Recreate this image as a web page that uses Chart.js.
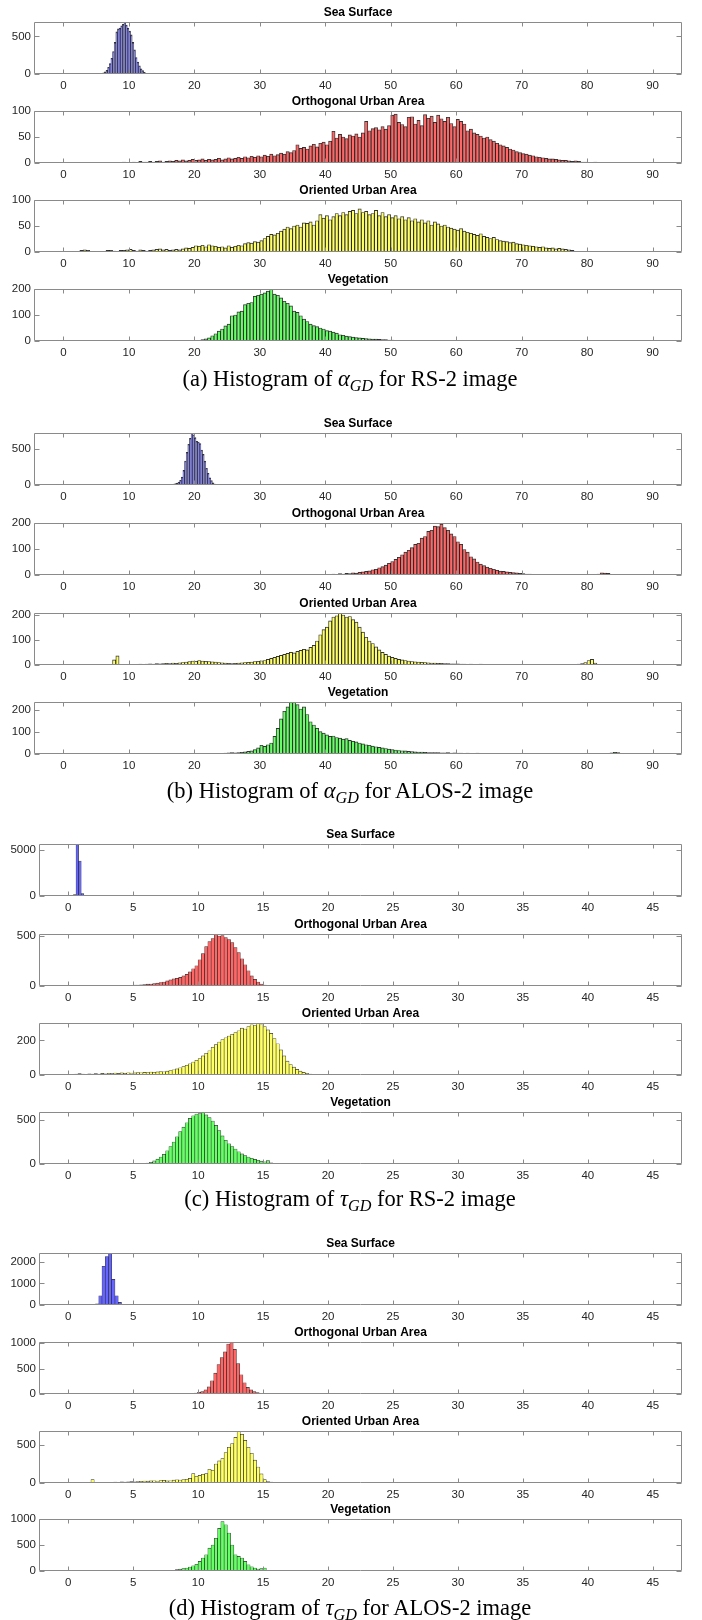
<!DOCTYPE html>
<html>
<head>
<meta charset="utf-8">
<script src="https://cdn.jsdelivr.net/npm/chart.js@4.4.1/dist/chart.umd.min.js"></script>
<style>
  html, body { margin: 0; padding: 0; background: #fff; }
  #page { position: relative; width: 702px; height: 1620px; overflow: hidden; }
  .panel { position: absolute; left: 0; }
  .cap {
    position: absolute; left: 0; width: 700px; text-align: center;
    font-family: "Liberation Serif", "Times New Roman", serif;
    font-size: 22.5px; line-height: 26px; color: #000;
  }
  .cap sub { font-size: 72%; vertical-align: -0.32em; line-height: 0; }
</style>
</head>
<body>
<div id="page"></div>
<script>
// ---- class names / tick labels ----
const classTitles = ['Sea Surface', 'Orthogonal Urban Area', 'Oriented Urban Area', 'Vegetation'];
const xTicksAlpha = [0, 10, 20, 30, 40, 50, 60, 70, 80, 90];
const xTicksTau = [0, 5, 10, 15, 20, 25, 30, 35, 40, 45];

// ---- (a) alpha_GD, RS-2 : bin start, bin width, counts ----
const aSeaStart = 5.5, aSeaBin = 0.25;
const aSea = [3, 8, 15, 28, 50, 90, 140, 210, 300, 420, 560, 600, 610, 640, 660, 690,
  650, 610, 570, 520, 420, 320, 220, 160, 110, 70, 45, 22, 10, 4];
const aOrthoStart = 8, aOrthoBin = 0.5;
const aOrtho = [
  1, 0, 2, 1, 1, 2, 1, 3, 2, 2,
  3, 2, 3, 4, 2, 3, 4, 3, 5, 4,
  6, 4, 5, 7, 5, 6, 8, 5, 7, 6,
  7, 9, 6, 8, 10, 8, 9, 11, 9, 12,
  10, 13, 11, 14, 12, 15, 13, 17, 14, 16,
  19, 17, 22, 20, 24, 35, 28, 30, 27, 33,
  36, 31, 38, 40, 35, 42, 61, 48, 55, 50,
  47, 54, 52, 56, 50, 58, 80, 62, 66, 68,
  64, 70, 65, 72, 92, 94, 78, 74, 70, 88,
  89, 75, 82, 72, 93, 86, 90, 78, 92, 85,
  80, 88, 76, 70, 84, 80, 75, 62, 65, 58,
  55, 52, 48, 50, 45, 42, 38, 35, 33, 30,
  27, 25, 22, 20, 18, 17, 15, 14, 12, 11,
  10, 9, 8, 8, 7, 6, 5, 5, 4, 3,
  4, 3, 2, 2, 1, 1, 2, 1, 1, 0,
  1, 0];
const aOrientStart = 2, aOrientBin = 0.5;
const aOrient = [
  0, 3, 4, 3, 1, 0, 0, 0, 1, 3,
  3, 2, 1, 3, 3, 4, 5, 3, 2, 4,
  3, 2, 3, 4, 5, 6, 4, 5, 3, 4,
  5, 4, 6, 8, 7, 9, 12, 11, 13, 10,
  14, 12, 11, 9, 10, 8, 12, 9, 11, 13,
  12, 16, 18, 17, 20, 19, 22, 26, 30, 34,
  33, 36, 40, 44, 48, 45, 50, 52, 48, 56,
  55, 58, 52, 60, 72, 65, 70, 62, 68, 74,
  70, 76, 72, 78, 80, 74, 83, 76, 78, 72,
  74, 80, 70, 76, 68, 72, 66, 70, 64, 68,
  62, 66, 60, 64, 58, 62, 56, 60, 52, 58,
  54, 50, 52, 48, 46, 44, 42, 45, 40, 38,
  36, 34, 32, 35, 30, 28, 26, 28, 24, 22,
  21, 20, 18, 19, 16, 15, 14, 13, 12, 11,
  10, 9, 10, 8, 7, 8, 6, 7, 6, 5,
  4, 3];
const aVegStart = 19, aVegBin = 0.5;
const aVeg = [
  1, 2, 1, 3, 5, 8, 12, 20, 28, 38,
  46, 58, 65, 97, 100, 112, 115, 140, 145, 148,
  172, 176, 180, 185, 192, 200, 180, 176, 166, 153,
  145, 135, 115, 110, 97, 84, 75, 65, 59, 55,
  50, 46, 40, 38, 34, 30, 24, 22, 19, 17,
  15, 13, 12, 10, 9, 8, 7, 7, 6, 5,
  5, 4, 4, 3, 3, 3, 2, 3, 2, 2,
  2, 1, 1, 2, 1, 1, 2, 1, 0, 1,
  1, 0, 1, 0, 0, 1, 0, 0, 1, 0,
  0, 0, 1, 0, 0, 0, 0, 0, 0, 0,
  0, 0, 0, 0, 0, 0, 0, 0, 2, 0,
  0, 0, 0, 0, 0, 0, 0, 0, 0, 1];
const aYMax = [692, 100, 100, 200];
const aYTicks = [[0, 500], [0, 50, 100], [0, 50, 100], [0, 100, 200]];

// ---- (b) alpha_GD, ALOS-2 ----
const bSeaStart = 13.5, bSeaBin = 0.25;
const bSea = [1, 2, 2, 3, 3, 3, 4, 4, 5, 5, 6, 7, 9, 12, 18, 25, 40, 65,
  110, 200, 330, 450, 560, 640, 714, 690, 650, 600, 590, 570,
  480, 420, 330, 230, 160, 100, 60, 30, 12, 5, 2, 0];
const bOrthoStart = 38, bOrthoBin = 0.5;
const bOrtho = [
  1, 0, 2, 1, 3, 2, 4, 3, 5, 4,
  6, 5, 8, 7, 10, 12, 14, 16, 20, 22,
  28, 32, 38, 45, 52, 60, 68, 78, 88, 95,
  105, 118, 122, 142, 148, 168, 172, 188, 186, 195,
  182, 172, 158, 148, 128, 118, 98, 88, 70, 62,
  50, 42, 36, 30, 26, 22, 18, 15, 14, 12,
  10, 9, 8, 6, 5, 4, 4, 3, 2, 2,
  2, 1, 1, 1, 0, 1, 0, 0, 1, 0,
  0, 0, 1, 0, 1, 0, 2, 4, 8, 7,
  6, 3];
const bOrientStart = 7.5, bOrientBin = 0.5;
const bOrient = [
  20, 36, 2, 0, 1, 2, 3, 2, 4, 3,
  4, 5, 4, 6, 5, 6, 7, 6, 8, 7,
  9, 10, 12, 14, 16, 15, 18, 16, 15, 14,
  13, 12, 10, 9, 8, 7, 6, 7, 8, 9,
  10, 11, 12, 14, 15, 17, 18, 22, 26, 30,
  34, 38, 42, 46, 50, 48, 54, 58, 62, 60,
  70, 78, 95, 120, 140, 150, 175, 190, 195, 205,
  198, 190, 192, 180, 170, 150, 130, 110, 95, 85,
  72, 60, 50, 42, 35, 30, 26, 22, 20, 18,
  16, 14, 13, 12, 11, 10, 9, 8, 8, 7,
  7, 6, 6, 5, 5, 5, 4, 4, 3, 4,
  3, 3, 4, 3, 2, 3, 2, 2, 3, 2,
  2, 2, 1, 2, 2, 1, 2, 1, 1, 2,
  1, 2, 1, 1, 2, 1, 1, 2, 2, 3,
  3, 3, 4, 6, 10, 18, 22, 8, 3, 0];
const bVegStart = 22.5, bVegBin = 0.5;
const bVeg = [
  1, 2, 3, 3, 4, 5, 6, 5, 7, 8,
  10, 12, 14, 20, 28, 40, 35, 42, 50, 80,
  117, 160, 195, 215, 237, 237, 225, 205, 215, 180,
  147, 132, 117, 102, 95, 87, 80, 82, 75, 72,
  68, 70, 62, 58, 55, 50, 46, 42, 40, 36,
  33, 30, 28, 25, 22, 20, 18, 16, 15, 14,
  12, 11, 10, 9, 9, 8, 7, 7, 6, 6,
  5, 5, 6, 4, 5, 4, 4, 3, 4, 3,
  3, 4, 3, 2, 3, 2, 2, 3, 2, 2,
  2, 1, 2, 2, 1, 2, 1, 1, 2, 1,
  1, 1, 2, 1, 1, 1, 0, 1, 1, 1,
  1, 0, 1, 1, 0, 1, 0, 1, 1, 2,
  2, 3, 5, 8, 6, 3, 1, 0, 0, 0];
const bYMax = [714, 200, 206, 237];
const bYTicks = [[0, 500], [0, 100, 200], [0, 100, 200], [0, 100, 200]];

// ---- (c) tau_GD, RS-2 ----
const cSeaStart = 0.2, cSeaBin = 0.2;
const cSea = [20, 150, 5650, 3800, 250, 30];
const cOrthoStart = 2.5, cOrthoBin = 0.25;
const cOrtho = [
  1, 0, 2, 1, 3, 2, 4, 3, 5, 6,
  8, 10, 12, 14, 18, 20, 25, 28, 35, 40,
  50, 60, 70, 75, 85, 100, 115, 140, 170, 200,
  260, 320, 390, 440, 470, 515, 495, 500, 480, 460,
  430, 380, 330, 270, 210, 150, 100, 65, 40, 20,
  8, 2];
const cOrientStart = 0, cOrientBin = 0.25;
const cOrient = [
  0, 2, 5, 8, 6, 4, 7, 5, 8, 6,
  9, 7, 10, 8, 11, 9, 12, 10, 13, 11,
  12, 14, 13, 15, 14, 17, 16, 18, 20, 19,
  22, 26, 30, 35, 42, 48, 56, 65, 75, 85,
  95, 110, 125, 140, 160, 175, 190, 205, 215, 225,
  235, 245, 255, 270, 265, 280, 290, 285, 298, 290,
  280, 260, 240, 210, 180, 145, 110, 80, 60, 45,
  32, 22, 15, 10, 6, 4, 2, 2, 1, 0];
const cVegStart = 5.5, cVegBin = 0.25;
const cVeg = [
  2, 5, 10, 20, 35, 55, 80, 110, 150, 200,
  250, 310, 370, 420, 470, 520, 550, 570, 575, 590,
  560, 530, 490, 440, 380, 320, 270, 230, 200, 170,
  140, 115, 95, 80, 65, 52, 42, 32, 26, 38,
  12, 2];
const cYMax = [5650, 515, 300, 593];
const cYTicks = [[0, 5000], [0, 500], [0, 200], [0, 500]];

// ---- (d) tau_GD, ALOS-2 ----
const dSeaStart = 2.1, dSeaBin = 0.25;
const dSea = [60, 430, 1800, 2250, 2400, 1190, 430, 120, 30];
const dOrthoStart = 9.45, dOrthoBin = 0.25;
const dOrtho = [12, 20, 35, 50, 80, 140, 260, 410, 580, 720, 830, 985,
  1025, 880, 600, 380, 220, 130, 80, 50, 30, 15, 6, 2];
const dOrientStart = 1.5, dOrientBin = 0.25;
const dOrient = [
  10, 44, 6, 0, 3, 0, 2, 10, 12, 10,
  14, 12, 16, 18, 15, 20, 22, 25, 24, 28,
  30, 26, 32, 35, 28, 30, 38, 42, 40, 45,
  48, 60, 123, 88, 100, 115, 123, 180, 167, 250,
  290, 320, 400, 470, 520, 600, 680, 640, 560, 470,
  390, 300, 210, 120, 44, 20, 13, 10, 8, 6,
  5, 9, 8, 4];
const dVegStart = 7, dVegBin = 0.25;
const dVeg = [3, 0, 1, 0, 15, 25, 35, 45, 57, 76,
  100, 130, 185, 250, 312, 440, 500, 630, 820, 950,
  890, 730, 500, 312, 280, 250, 185, 120, 80, 57,
  38, 45, 57, 10];
const dYMax = [2413, 1025, 684, 1000];
const dYTicks = [[0, 1000, 2000], [0, 500, 1000], [0, 500], [0, 500, 1000]];

// ---- styling ----
const FACE = ['rgb(102,102,255)', 'rgb(255,102,102)', 'rgb(255,255,102)', 'rgb(102,255,102)'];
const SANS = "'Liberation Sans', Arial, Helvetica, sans-serif";
const PLOT_H = 52, TITLE_H = 20, XAXIS_H = 24;

// matlab-like box with inward ticks on all four sides
const matlabAxes = {
  id: 'matlabAxes',
  afterDatasetsDraw(chart) {
    const { ctx, chartArea: a, scales: { x, y } } = chart;
    const L = Math.round(a.left) + 0.5, R = Math.round(a.right) - 0.5;
    const T = Math.round(a.top) + 0.5, B = Math.round(a.bottom) - 0.5;
    ctx.save();
    ctx.strokeStyle = '#8a8a8a';
    ctx.lineWidth = 1;
    ctx.beginPath();
    x.ticks.forEach(t => {
      const px = Math.round(x.getPixelForValue(t.value)) + 0.5;
      ctx.moveTo(px, T); ctx.lineTo(px, T + 4);
      ctx.moveTo(px, B); ctx.lineTo(px, B - 4);
    });
    y.ticks.forEach(t => {
      const py = Math.round(y.getPixelForValue(t.value)) + 0.5;
      ctx.moveTo(L, py); ctx.lineTo(L + 5, py);
      ctx.moveTo(R, py); ctx.lineTo(R - 5, py);
    });
    ctx.rect(L, T, R - L, B - T);
    ctx.stroke();
    ctx.restore();
  }
};

function drawHist(page, top, left, title, start, bin, counts, face, edgeW, xMin, xMax, xTicks, yMax, yTicks) {
  const canvas = document.createElement('canvas');
  canvas.className = 'panel';
  canvas.width = 702;
  canvas.height = TITLE_H + PLOT_H + XAXIS_H;
  canvas.style.top = (top - TITLE_H) + 'px';
  page.appendChild(canvas);

  const data = counts.map((c, i) => ({ x: start + (i + 0.5) * bin, y: c }));

  new Chart(canvas, {
    type: 'bar',
    data: {
      datasets: [{
        data,
        backgroundColor: face,
        borderColor: 'rgba(0,0,0,0.8)',
        borderWidth: edgeW,
        barPercentage: 1,
        categoryPercentage: 1
      }]
    },
    options: {
      responsive: false,
      animation: false,
      layout: { padding: { left: 0, right: 20, top: 0, bottom: 0 } },
      plugins: {
        legend: { display: false },
        tooltip: { enabled: false },
        title: {
          display: true, text: title, fullSize: false, color: '#000',
          font: { family: SANS, size: 12, weight: 'bold', lineHeight: 1.2 },
          padding: { top: 3, bottom: 2.6 }
        }
      },
      scales: {
        x: {
          type: 'linear', min: xMin, max: xMax, offset: false,
          grid: { display: false, drawTicks: false },
          border: { display: false },
          afterBuildTicks: s => { s.ticks = xTicks.map(v => ({ value: v })); },
          afterFit: s => { s.height = XAXIS_H; },
          ticks: { color: '#262626', font: { family: SANS, size: 11.5 }, padding: 5, maxRotation: 0, autoSkip: false,
                   callback: v => String(v) }
        },
        y: {
          type: 'linear', min: 0, max: yMax,
          grid: { display: false, drawTicks: false },
          border: { display: false },
          afterBuildTicks: s => { s.ticks = yTicks.map(v => ({ value: v })); },
          afterFit: s => { s.width = left; },
          ticks: { color: '#262626', font: { family: SANS, size: 11.5 }, padding: 3, autoSkip: false,
                   callback: v => String(v) }
        }
      }
    },
    plugins: [matlabAxes]
  });
}

const page = document.getElementById('page');

const figures = [
  { tops: [22, 111, 200, 289], left: 34, xMin: -4.5, xMax: 94.5, xTicks: xTicksAlpha, yMax: aYMax, yTicks: aYTicks, edgeW: 0.9,
    hists: [[aSeaStart, aSeaBin, aSea], [aOrthoStart, aOrthoBin, aOrtho], [aOrientStart, aOrientBin, aOrient], [aVegStart, aVegBin, aVeg]],
    capY: 379, cap: '(a) Histogram of <i>α</i><sub><i>GD</i></sub> for RS-2 image' },
  { tops: [433, 523, 613, 702], left: 34, xMin: -4.5, xMax: 94.5, xTicks: xTicksAlpha, yMax: bYMax, yTicks: bYTicks, edgeW: 0.9,
    hists: [[bSeaStart, bSeaBin, bSea], [bOrthoStart, bOrthoBin, bOrtho], [bOrientStart, bOrientBin, bOrient], [bVegStart, bVegBin, bVeg]],
    capY: 791, cap: '(b) Histogram of <i>α</i><sub><i>GD</i></sub> for ALOS-2 image' },
  { tops: [844, 934, 1023, 1112], left: 39, xMin: -2.25, xMax: 47.25, xTicks: xTicksTau, yMax: cYMax, yTicks: cYTicks, edgeW: 0.6,
    hists: [[cSeaStart, cSeaBin, cSea], [cOrthoStart, cOrthoBin, cOrtho], [cOrientStart, cOrientBin, cOrient], [cVegStart, cVegBin, cVeg]],
    capY: 1199, cap: '(c) Histogram of <i>τ</i><sub><i>GD</i></sub> for RS-2 image' },
  { tops: [1253, 1342, 1431, 1519], left: 39, xMin: -2.25, xMax: 47.25, xTicks: xTicksTau, yMax: dYMax, yTicks: dYTicks, edgeW: 0.6,
    hists: [[dSeaStart, dSeaBin, dSea], [dOrthoStart, dOrthoBin, dOrtho], [dOrientStart, dOrientBin, dOrient], [dVegStart, dVegBin, dVeg]],
    capY: 1608, cap: '(d) Histogram of <i>τ</i><sub><i>GD</i></sub> for ALOS-2 image' }
];

figures.forEach(f => {
  f.hists.forEach((h, k) => {
    drawHist(page, f.tops[k], f.left, classTitles[k], h[0], h[1], h[2], FACE[k], f.edgeW,
      f.xMin, f.xMax, f.xTicks, f.yMax[k], f.yTicks[k]);
  });
  const cap = document.createElement('div');
  cap.className = 'cap';
  cap.style.top = (f.capY - 13) + 'px';
  cap.innerHTML = f.cap;
  page.appendChild(cap);
});
</script>
</body>
</html>
